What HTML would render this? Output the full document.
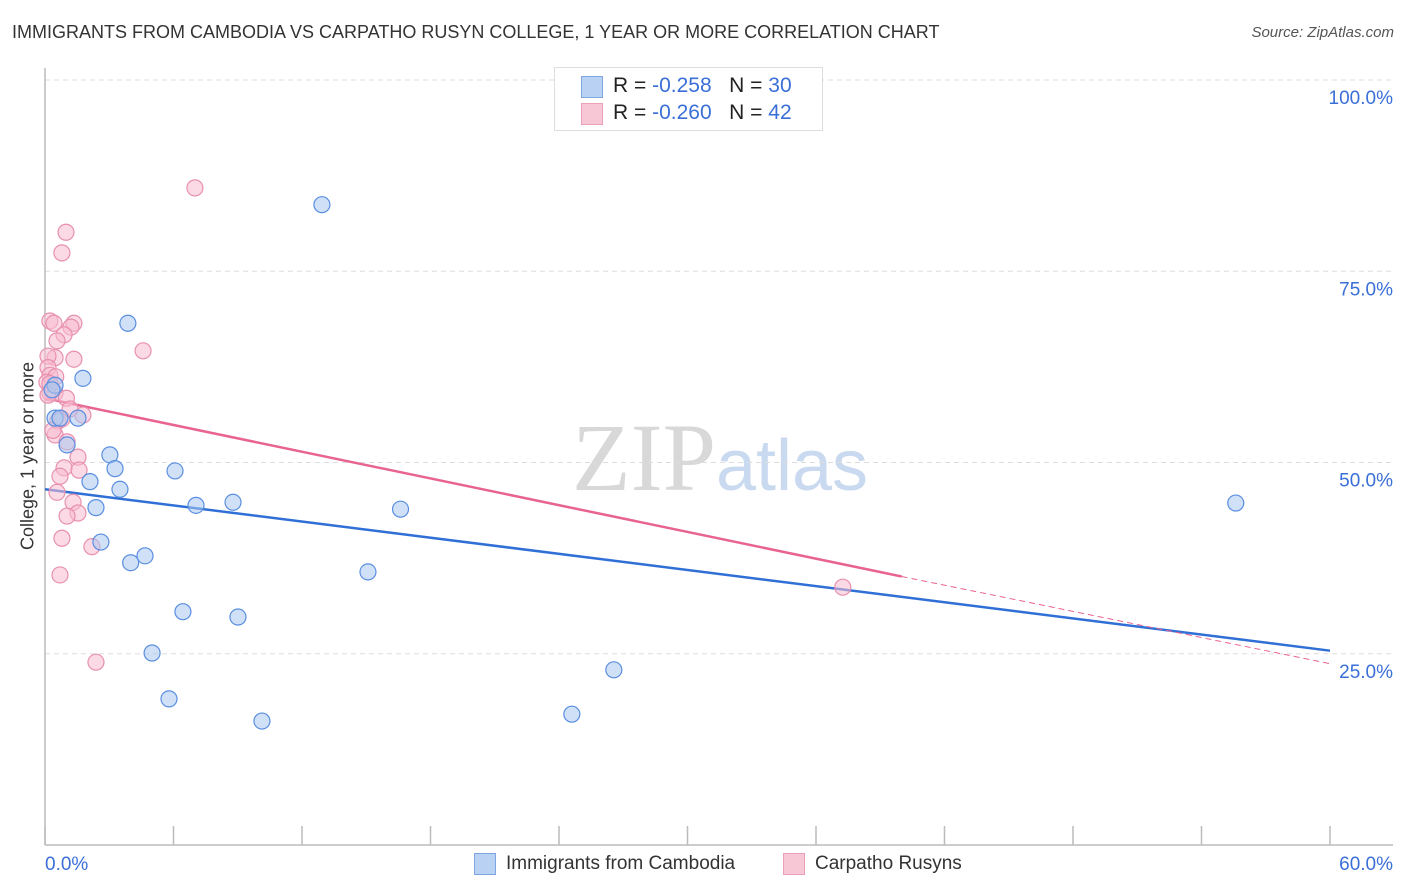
<!DOCTYPE html>
<html><head><meta charset="utf-8">
<style>
body{margin:0;background:#fff;font-family:"Liberation Sans",sans-serif;}
#wrap{position:relative;width:1406px;height:892px;overflow:hidden;}
.t{position:absolute;white-space:nowrap;}
</style></head>
<body>
<div id="wrap">
<div class="t" style="left:12px;top:22px;font-size:18px;color:#333;">IMMIGRANTS FROM CAMBODIA VS CARPATHO RUSYN COLLEGE, 1 YEAR OR MORE CORRELATION CHART</div>
<div class="t" style="right:12px;top:24px;font-size:15px;color:#555;font-style:italic;">Source: ZipAtlas.com</div>
<div class="t" style="left:28px;top:456px;font-size:18px;color:#333;transform:translate(-50%,-50%) rotate(-90deg);">College, 1 year or more</div>
<svg id="plot" width="1406" height="892" style="position:absolute;left:0;top:0;">
<text x="720" y="490" text-anchor="middle" font-size="96" font-family="Liberation Serif,serif" fill="#dedede"><tspan fill="#d8d8d8">ZIP</tspan><tspan font-family="Liberation Sans,sans-serif" font-size="72" fill="#c9d9ef">atlas</tspan></text>
<g id="grid"></g><g id="axes"></g><g id="lines"></g><g id="pts"></g>
</svg>
<div style="position:absolute;left:554px;top:67px;width:267px;height:62px;border:1px solid #ddd;background:#fff;">
<div style="position:absolute;left:26px;top:8px;width:20px;height:20px;background:#b9d1f3;border:1px solid #7ea6e0;"></div>
<div class="t" style="left:58px;top:6px;font-size:21px;color:#222;">R = <span style="color:#3a6fd8">-0.258</span>&nbsp;&nbsp;&nbsp;N = <span style="color:#3a6fd8">30</span></div>
<div style="position:absolute;left:26px;top:35px;width:20px;height:20px;background:#f8c7d6;border:1px solid #ec9fb8;"></div>
<div class="t" style="left:58px;top:33px;font-size:21px;color:#222;">R = <span style="color:#3a6fd8">-0.260</span>&nbsp;&nbsp;&nbsp;N = <span style="color:#3a6fd8">42</span></div>
</div>
<div>
<div style="position:absolute;left:474px;top:853px;width:20px;height:20px;background:#b9d1f3;border:1px solid #7ea6e0;"></div>
<div class="t" style="left:506px;top:853px;font-size:19px;color:#333;">Immigrants from Cambodia</div>
<div style="position:absolute;left:783px;top:853px;width:20px;height:20px;background:#f8c7d6;border:1px solid #ec9fb8;"></div>
<div class="t" style="left:815px;top:853px;font-size:19px;color:#333;">Carpatho Rusyns</div>
</div>
</div>
<script>
const yTicks=[25,50,75,100];
const yTickLabels=["25.0%","50.0%","75.0%","100.0%"];
const xTickLabels=["0.0%","60.0%"];
const blueX=[12.93,3.87,1.77,0.47,0.33,0.47,0.7,1.54,1.03,3.03,3.27,2.1,3.5,6.07,2.38,7.05,8.78,16.6,55.6,2.61,4.67,4.0,15.08,6.44,9.01,5.0,26.56,5.79,24.6,10.13];
const blueY=[83.7,68.2,61.0,60.1,59.5,55.8,55.8,55.8,52.3,51.0,49.2,47.5,46.5,48.9,44.1,44.4,44.8,43.9,44.7,39.6,37.8,36.9,35.7,30.5,29.8,25.1,22.9,19.1,17.1,16.2];
const pinkX=[7.0,0.98,0.79,0.23,0.42,1.35,1.21,0.89,0.56,4.58,1.35,0.47,0.14,0.14,0.23,0.5,0.09,0.23,0.47,1.0,1.77,0.6,0.47,1.03,1.54,0.89,1.59,0.7,0.56,1.31,1.54,1.03,0.79,2.19,0.7,2.38,37.25,0.23,0.14,0.37,0.79,1.17];
const pinkY=[85.9,80.1,77.4,68.5,68.2,68.2,67.7,66.7,65.9,64.6,63.5,63.7,63.9,62.4,61.4,61.2,60.5,59.1,59.1,58.4,56.2,55.4,53.6,52.7,50.7,49.3,49.0,48.2,46.1,44.8,43.4,43.0,40.1,39.0,35.3,23.9,33.7,60.3,58.8,54.2,55.7,57.0];
const blueTrend=[0,46.5,60,25.4];
const pinkTrend=[0,58.4,40,35.1,60,23.7];
const X=v=>45+v*(1285/60);
const Y=v=>845-v*7.65;
const NS="http://www.w3.org/2000/svg";
function mk(tag,attrs,parent){const e=document.createElementNS(NS,tag);for(const k in attrs)e.setAttribute(k,attrs[k]);document.getElementById(parent).appendChild(e);return e;}
yTicks.forEach((t,i)=>{
 const g=mk('line',{x1:45,x2:1393,y1:Y(t),y2:Y(t),stroke:'#ddd','stroke-dasharray':'5,4'},'grid');
 
 
 const tx=mk('text',{x:1393,y:Y(t)+24,'text-anchor':'end','font-size':19,fill:'#3a6fd8'},'grid');
 tx.textContent=yTickLabels[i];
 
 
});
const ax=mk('line',{x1:45,x2:1393,y1:845,y2:845,stroke:'#bbb','stroke-width':1.5},'axes');


const ay=mk('line',{x1:45,x2:45,y1:68,y2:845,stroke:'#bbb','stroke-width':1.5},'axes');


for(let v=0;v<=60;v+=6){const tk=mk('line',{x1:X(v),x2:X(v),y1:826,y2:845,stroke:'#bbb','stroke-width':1.5},'axes');
 
 }
[0,60].forEach((v,i)=>{const tx=mk('text',{x:i?1393:45,y:870,'text-anchor':i?'end':'start','font-size':19,fill:'#3a6fd8'},'axes');
 tx.textContent=xTickLabels[i];
 
 });
function dot(x,y,fill,stroke,name){const c=mk('circle',{cx:X(x),cy:Y(y),r:8,fill:fill,'fill-opacity':0.55,stroke:stroke,'stroke-width':1.2},'pts');
 
 }
pinkX.forEach((x,i)=>dot(x,pinkY[i],'#f7bcd0','#e890ae','point-rusyn'));
blueX.forEach((x,i)=>dot(x,blueY[i],'#aac8f0','#5a8ee0','point-cambodia'));
const bl=mk('line',{x1:X(blueTrend[0]),y1:Y(blueTrend[1]),x2:X(blueTrend[2]),y2:Y(blueTrend[3]),stroke:'#2f6fd6','stroke-width':2.5},'lines');


const pl=mk('line',{x1:X(pinkTrend[0]),y1:Y(pinkTrend[1]),x2:X(pinkTrend[2]),y2:Y(pinkTrend[3]),stroke:'#e8648f','stroke-width':2.5},'lines');


const pd=mk('line',{x1:X(pinkTrend[2]),y1:Y(pinkTrend[3]),x2:X(pinkTrend[4]),y2:Y(pinkTrend[5]),stroke:'#e8648f','stroke-width':1,'stroke-dasharray':'6,4'},'lines');


</script>
</body></html>
